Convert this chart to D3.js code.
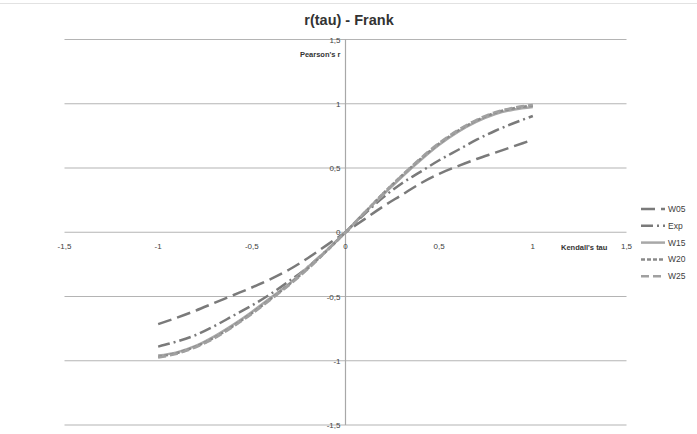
<!DOCTYPE html>
<html><head><meta charset="utf-8">
<script src="https://cdn.jsdelivr.net/npm/d3@7"></script>
<style>body{margin:0;background:#fff}svg{display:block;font-family:"Liberation Sans",Arial,sans-serif}</style>
</head><body><svg id="c" width="697" height="434"></svg>
<script>
const tau = [-1,-0.9,-0.8,-0.7,-0.6,-0.5,-0.4,-0.3,-0.2,-0.1,0,0.1,0.2,0.3,0.4,0.5,0.6,0.7,0.8,0.9,1];
const W05 = [-0.715,-0.665,-0.61,-0.55,-0.49,-0.43,-0.365,-0.29,-0.2,-0.1,0,0.1,0.2,0.29,0.38,0.455,0.515,0.57,0.62,0.67,0.72];
const Exp = [-0.89,-0.85,-0.80,-0.73,-0.65,-0.57,-0.48,-0.38,-0.27,-0.14,0,0.14,0.27,0.38,0.47,0.56,0.64,0.72,0.79,0.85,0.905];
const W15 = [-0.96,-0.935,-0.885,-0.81,-0.72,-0.62,-0.51,-0.40,-0.27,-0.14,0,0.15,0.29,0.43,0.56,0.68,0.78,0.86,0.92,0.955,0.975];
const W20 = [-0.97,-0.94,-0.89,-0.82,-0.73,-0.63,-0.52,-0.405,-0.28,-0.145,0,0.15,0.30,0.44,0.57,0.69,0.79,0.87,0.93,0.965,0.985];
const W25 = [-0.975,-0.945,-0.895,-0.825,-0.735,-0.635,-0.525,-0.41,-0.285,-0.145,0,0.15,0.30,0.44,0.575,0.695,0.795,0.875,0.935,0.97,0.99];
const seriesNames = ["W05","Exp","W15","W20","W25"];
const ticks = [-1.5,-1,-0.5,0,0.5,1,1.5];
const title = "r(tau) - Frank";

const series = [
  {name:"W05", values:W05, color:"#7a7a7a", dash:"14,6"},
  {name:"Exp", values:Exp, color:"#7a7a7a", dash:"12,4,2,4"},
  {name:"W15", values:W15, color:"#a8a8a8", dash:null},
  {name:"W20", values:W20, color:"#8a8a8a", dash:"4,2"},
  {name:"W25", values:W25, color:"#a0a0a0", dash:"8,4"}
];

const svg = d3.select("#c");
const x = d3.scaleLinear().domain([-1.5,1.5]).range([64.5,626.5]);
const y = d3.scaleLinear().domain([-1.5,1.5]).range([425,39.5]);
const fmt = d => String(d).replace(".", ",");

svg.append("line").attr("x1",0).attr("x2",697).attr("y1",3.5).attr("y2",3.5).attr("stroke","#e2e2e2");

// horizontal gridlines
svg.append("g").selectAll("line").data(ticks).join("line")
  .attr("x1",x(-1.5)).attr("x2",x(1.5)).attr("y1",d=>y(d)).attr("y2",d=>y(d))
  .attr("stroke","#b4b4b4").attr("stroke-width",1.2);
// vertical axis
svg.append("line").attr("x1",x(0)).attr("x2",x(0)).attr("y1",y(1.5)).attr("y2",y(-1.5))
  .attr("stroke","#a8a8a8").attr("stroke-width",1.2);

// y tick labels
svg.append("g").selectAll("text").data(ticks).join("text")
  .attr("x",x(0)-5).attr("y",d=>y(d)+3).attr("text-anchor","end")
  .attr("font-size",8).attr("fill","#404040").text(fmt);
// x tick labels
svg.append("g").selectAll("text").data(ticks.filter(d=>d!==0).concat([0])).join("text")
  .attr("x",d=>x(d)).attr("y",249).attr("text-anchor","middle")
  .attr("font-size",8).attr("fill","#404040").text(fmt);

svg.append("text").attr("x",x(0)-5).attr("y",57).attr("text-anchor","end")
  .attr("font-size",7.5).attr("font-weight","bold").attr("fill","#333").text("Pearson's r");
svg.append("text").attr("x",561).attr("y",250)
  .attr("font-size",7.5).attr("font-weight","bold").attr("fill","#333").text("Kendall's tau");

svg.append("text").attr("x",349).attr("y",25).attr("text-anchor","middle")
  .attr("font-size",14.5).attr("font-weight","bold").attr("fill","#333").text(title);

const line = d3.line().x((d,i)=>x(tau[i])).y(d=>y(d)).curve(d3.curveMonotoneX);
const order = [0,1,2,3,4];
svg.append("g").selectAll("path").data(order.map(i=>series[i])).join("path")
  .attr("d",d=>line(d.values)).attr("fill","none")
  .attr("stroke",d=>d.color).attr("stroke-width",2.5)
  .attr("stroke-dasharray",d=>d.dash);

// legend
const lg = svg.append("g").selectAll("g").data(series).join("g")
  .attr("transform",(d,i)=>`translate(641,${209+i*16.8})`);
lg.append("line").attr("x1",0).attr("x2",24).attr("y1",0).attr("y2",0)
  .attr("stroke",d=>d.color).attr("stroke-width",2.5).attr("stroke-dasharray",d=>d.dash);
lg.append("text").attr("x",27).attr("y",3).attr("font-size",8.5).attr("fill","#404040").text(d=>d.name);
</script></body></html>
